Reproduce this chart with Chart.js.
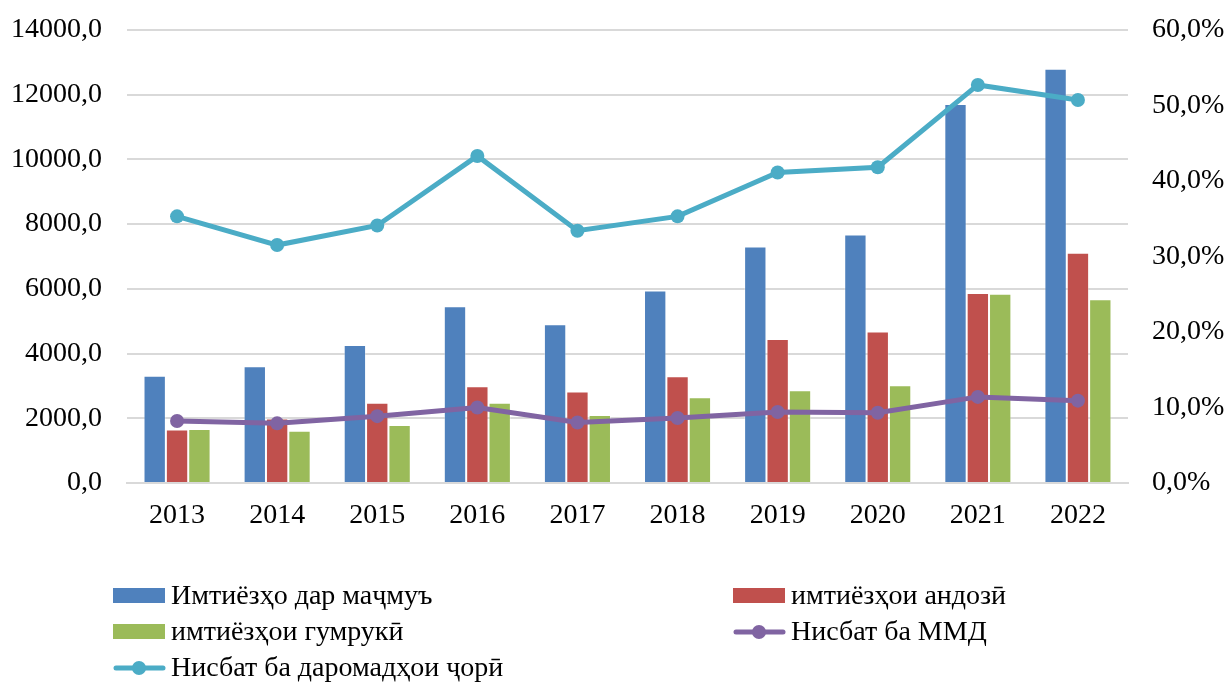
<!DOCTYPE html>
<html>
<head>
<meta charset="utf-8">
<script src="https://cdn.jsdelivr.net/npm/chart.js@4.4.1/dist/chart.umd.min.js"></script>
<style>
  html, body { margin: 0; padding: 0; background: #fff; overflow: hidden; }
  #wrap { position: relative; width: 1229px; height: 682px; overflow: hidden; }
  #c { position: absolute; left: 0; top: -12px; }
  .leg { position: absolute; font-family: "Liberation Serif", "Times New Roman", serif; font-size: 28px; color: #000; white-space: nowrap; line-height: 1; }
  .sw { position: absolute; }
</style>
</head>
<body>
<div id="wrap">
  <canvas id="c" width="1229" height="694"></canvas>
  <div id="legend"></div>
</div>
<script>
const years = ["2013","2014","2015","2016","2017","2018","2019","2020","2021","2022"];
const totalExemptions = [3310, 3610, 4265, 5460, 4905, 5950, 7305, 7680, 11710, 12800];
const taxExemptions   = [1656, 1995, 2476, 2990, 2828, 3300, 4450, 4678, 5868, 7114];
const customsExemptions = [1665, 1613, 1788, 2476, 2097, 2652, 2868, 3022, 5848, 5674];
const ratioGDP = [8.2, 7.9, 8.85, 10.0, 8.0, 8.6, 9.4, 9.3, 11.4, 10.9];
const ratioRevenue = [35.3, 31.5, 34.1, 43.3, 33.4, 35.3, 41.1, 41.8, 52.7, 50.7];
const leftTicks = [0, 2000, 4000, 6000, 8000, 10000, 12000, 14000];
const rightTicks = [0, 10, 20, 30, 40, 50, 60];

const labelsText = {
  total: "Имтиёзҳо дар маҷмуъ",
  tax: "имтиёзҳои андозӣ",
  customs: "имтиёзҳои гумрукӣ",
  gdp: "Нисбат ба ММД",
  revenue: "Нисбат ба даромадҳои ҷорӣ"
};

const C = { blue: "#4F81BD", red: "#C0504D", green: "#9BBB59", purple: "#8064A2", cyan: "#4BACC6" };
const FONT = { family: "'Liberation Serif', 'Times New Roman', serif", size: 28 };

const fmtComma = v => Number(v).toFixed(1).replace('.', ',');

const chart = new Chart(document.getElementById('c'), {
  data: {
    labels: years,
    datasets: [
      { type: 'line', label: labelsText.gdp, data: ratioGDP, yAxisID: 'y1', borderColor: C.purple, backgroundColor: C.purple,
        borderWidth: 5, pointRadius: 7, pointHoverRadius: 7, pointBackgroundColor: C.purple, pointBorderWidth: 0, tension: 0, order: 0 },
      { type: 'line', label: labelsText.revenue, data: ratioRevenue, yAxisID: 'y1', borderColor: C.cyan, backgroundColor: C.cyan,
        borderWidth: 5, pointRadius: 7, pointHoverRadius: 7, pointBackgroundColor: C.cyan, pointBorderWidth: 0, tension: 0, order: 0 },
      { type: 'bar', label: labelsText.total, data: totalExemptions, yAxisID: 'y', backgroundColor: C.blue, borderColor: "rgba(255,255,255,0.35)", borderWidth: 1, order: 1,
        barPercentage: 1.0, categoryPercentage: 0.67 },
      { type: 'bar', label: labelsText.tax, data: taxExemptions, yAxisID: 'y', backgroundColor: C.red, borderColor: "rgba(255,255,255,0.35)", borderWidth: 1, order: 1,
        barPercentage: 1.0, categoryPercentage: 0.67 },
      { type: 'bar', label: labelsText.customs, data: customsExemptions, yAxisID: 'y', backgroundColor: C.green, borderColor: "rgba(255,255,255,0.35)", borderWidth: 1, order: 1,
        barPercentage: 1.0, categoryPercentage: 0.67 }
    ]
  },
  options: {
    responsive: false,
    animation: false,
    layout: { padding: { top: 17, bottom: 0, left: 0, right: 0 } },
    plugins: { legend: { display: false }, tooltip: { enabled: false } },
    scales: {
      x: {
        grid: { display: false, drawTicks: false },
        border: { display: true, color: "#d9d9d9", width: 2 },
        ticks: { color: "#000", font: FONT, padding: 16, maxRotation: 0 },
        afterFit: s => { s.height = 199; }
      },
      y: {
        position: 'left', min: 0, max: 14000,
        afterBuildTicks: s => { s.ticks = leftTicks.map(v => ({ value: v })); },
        grid: { color: "#d9d9d9", lineWidth: 2, drawTicks: false },
        border: { display: false },
        ticks: { color: "#000", font: FONT, padding: 25, callback: v => fmtComma(v) },
        afterFit: s => { s.width = 127; }
      },
      y1: {
        position: 'right', min: 0, max: 60,
        afterBuildTicks: s => { s.ticks = rightTicks.map(v => ({ value: v })); },
        grid: { display: false, drawTicks: false },
        border: { display: false },
        ticks: { color: "#000", font: FONT, padding: 24, callback: v => fmtComma(v) + '%' },
        afterFit: s => { s.width = 101; }
      }
    }
  }
});

// HTML legend, laid out in two columns like the original
const legendItems = [
  { text: labelsText.total, color: C.blue, kind: 'box', x: 113, y: 596 },
  { text: labelsText.tax, color: C.red, kind: 'box', x: 733, y: 596 },
  { text: labelsText.customs, color: C.green, kind: 'box', x: 113, y: 632 },
  { text: labelsText.gdp, color: C.purple, kind: 'line', x: 733, y: 632 },
  { text: labelsText.revenue, color: C.cyan, kind: 'line', x: 113, y: 668 }
];
const legend = document.getElementById('legend');
legendItems.forEach(it => {
  const sw = document.createElement('canvas');
  sw.className = 'sw'; sw.width = 54; sw.height = 20;
  sw.style.left = it.x + 'px'; sw.style.top = (it.y - 10) + 'px';
  const g = sw.getContext('2d');
  g.fillStyle = it.color; g.strokeStyle = it.color;
  if (it.kind === 'box') {
    g.fillRect(0, 2, 52, 15);
  } else {
    g.lineWidth = 5; g.lineCap = 'round';
    g.beginPath(); g.moveTo(3, 10); g.lineTo(50, 10); g.stroke();
    g.beginPath(); g.arc(26, 10, 7, 0, Math.PI * 2); g.fill();
  }
  legend.appendChild(sw);
  const t = document.createElement('div');
  t.className = 'leg'; t.textContent = it.text;
  t.style.left = (it.x + 58) + 'px'; t.style.top = (it.y - 15) + 'px';
  legend.appendChild(t);
});
</script>
</body>
</html>
